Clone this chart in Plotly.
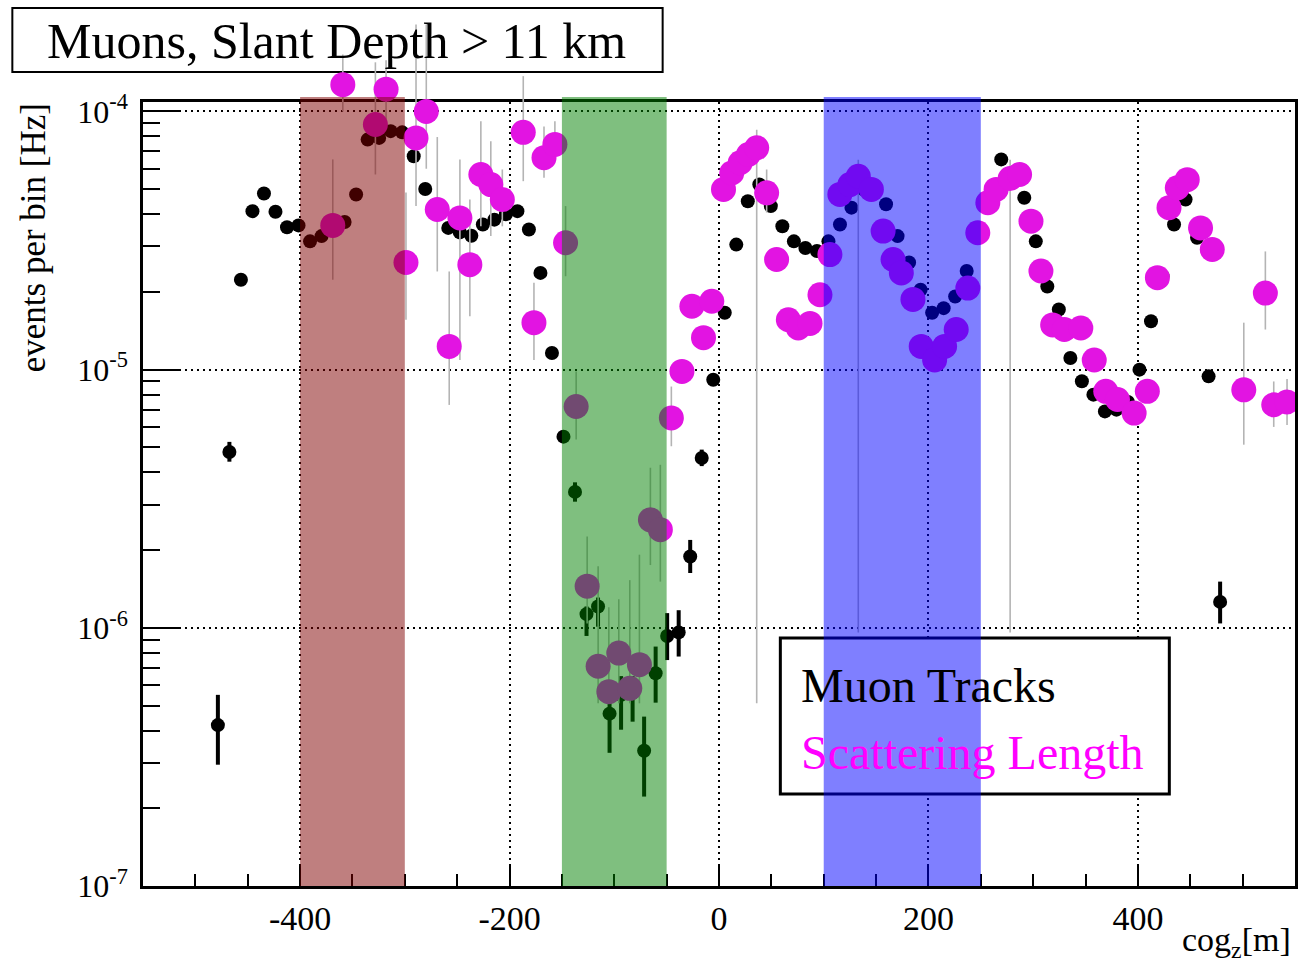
import plotly.graph_objects as go

# ---- Muon Tracks: rate per 11 m cog_z bin ----
muon_x = [-478.5, -467.5, -456.5, -445.5, -434.5, -423.5, -412.5, -401.5, -390.5, -379.5,
          -368.5, -357.5, -346.5, -335.5, -324.5, -313.5, -302.5, -291.5, -280.5, -269.5,
          -258.5, -247.5, -236.5, -225.5, -214.5, -203.5, -192.5, -181.5, -170.5, -159.5,
          -148.5, -137.5, -126.5, -115.5, -104.5, -93.5, -82.5, -71.5, -60.5, -49.5,
          -38.5, -27.5, -16.5, -5.5, 5.5, 16.5, 27.5, 38.5, 49.5, 60.5,
          71.5, 82.5, 93.5, 104.5, 115.5, 126.5, 137.5, 148.5, 159.5, 170.5,
          181.5, 192.5, 203.5, 214.5, 225.5, 236.5, 247.5, 258.5, 269.5, 280.5,
          291.5, 302.5, 313.5, 324.5, 335.5, 346.5, 357.5, 368.5, 379.5, 390.5,
          401.5, 412.5, 423.5, 434.5, 445.5, 456.5, 467.5, 478.5]
muon_rate = [4.2e-7, 4.8e-6, 2.23e-5, 4.11e-5, 4.81e-5, 4.09e-5, 3.56e-5, 3.62e-5, 3.14e-5, 3.29e-5,
             3.6e-5, 3.73e-5, 4.77e-5, 7.78e-5, 7.9e-5, 8.39e-5, 8.3e-5, 6.71e-5, 5.01e-5, 4.0e-5,
             3.54e-5, 3.4e-5, 3.3e-5, 3.65e-5, 3.81e-5, 4.0e-5, 4.11e-5, 3.49e-5, 2.37e-5, 1.16e-5,
             5.5e-6, 3.36e-6, 1.13e-6, 1.21e-6, 4.65e-7, 5.5e-7, 5.6e-7, 3.34e-7, 6.67e-7, 9.3e-7,
             9.6e-7, 1.89e-6, 4.55e-6, 9.14e-6, 1.66e-5, 3.05e-5, 4.49e-5, 5.21e-5, 4.3e-5, 3.59e-5,
             3.14e-5, 2.96e-5, 2.88e-5, 3.14e-5, 3.65e-5, 4.24e-5, 5.0e-5, 5.0e-5, 4.37e-5, 3.29e-5,
             2.6e-5, 2.04e-5, 1.66e-5, 1.73e-5, 1.92e-5, 2.41e-5, 3.3e-5, 4.5e-5, 6.52e-5, 5.8e-5,
             4.63e-5, 3.14e-5, 2.1e-5, 1.71e-5, 1.11e-5, 9.02e-6, 8.0e-6, 6.89e-6, 7.0e-6, 7.5e-6,
             1.0e-5, 1.54e-5, 2.3e-5, 3.65e-5, 4.56e-5, 3.24e-5, 9.42e-6, 1.26e-6]
muon_err_up = ([1.3e-7, 4.5e-7] + [0.0] * 29 +
               [3.0e-7, 8e-8, 1.0e-7, 6e-8, 1.0e-7, 9e-8, 1.19e-7, 1.79e-7, 2.1e-7, 2.1e-7, 3.0e-7, 3.5e-7] +
               [0.0] * 44 + [2.5e-7])
muon_err_dn = ([1.25e-7, 4.0e-7] + [0.0] * 29 +
               [2.8e-7, 2.0e-7, 2.0e-7, 1.37e-7, 1.47e-7, 1.27e-7, 1.12e-7, 1.54e-7, 1.8e-7, 1.86e-7, 2.6e-7, 3.2e-7] +
               [0.0] * 44 + [2.2e-7])

# ---- Scattering Length: rate, with upper / lower error bounds (None = no visible bar) ----
scat_x = [-368.8, -359.2, -328.1, -317.9, -298.9, -289.3, -279.5, -269.0, -257.6, -247.4,
          -237.9, -227.4, -217.9, -206.9, -186.9, -176.7, -167.1, -156.7, -146.5, -136.4,
          -125.9, -115.4, -105.2, -95.7, -85.2, -76.0, -65.5, -56.0, -45.5, -35.4,
          -25.9, -14.8, -6.9, 4.3, 12.2, 20.2, 28.1, 36.0, 45.5, 55.0,
          66.2, 75.7, 86.9, 96.4, 105.9, 115.4, 125.0, 133.0, 145.5, 156.7,
          166.2, 174.1, 185.2, 193.1, 205.9, 215.4, 226.5, 237.6, 247.1, 256.7,
          264.6, 278.0, 287.0, 297.9, 307.4, 318.6, 329.7, 345.5, 358.3, 369.3,
          380.5, 396.4, 409.0, 418.6, 429.7, 437.6, 447.1, 459.8, 471.0, 501.1,
          521.7, 529.7, 542.4]
scat_rate = [3.62e-5, 1.27e-4, 8.9e-5, 1.22e-4, 2.6e-5, 7.9e-5, 1.0e-4, 4.17e-5, 1.23e-5, 3.87e-5,
             2.55e-5, 5.7e-5, 5.21e-5, 4.56e-5, 8.3e-5, 1.52e-5, 6.62e-5, 7.45e-5, 3.1e-5, 7.2e-6,
             1.45e-6, 7.1e-7, 5.66e-7, 7.98e-7, 5.83e-7, 7.2e-7, 2.62e-6, 2.4e-6, 6.5e-6, 9.84e-6,
             1.76e-5, 1.33e-5, 1.84e-5, 4.99e-5, 5.78e-5, 6.33e-5, 6.81e-5, 7.23e-5, 4.84e-5, 2.67e-5,
             1.56e-5, 1.45e-5, 1.51e-5, 1.95e-5, 2.79e-5, 4.77e-5, 5.21e-5, 5.61e-5, 4.99e-5, 3.44e-5,
             2.67e-5, 2.37e-5, 1.87e-5, 1.23e-5, 1.09e-5, 1.23e-5, 1.43e-5, 2.07e-5, 3.39e-5, 4.43e-5,
             4.99e-5, 5.5e-5, 5.7e-5, 3.76e-5, 2.41e-5, 1.49e-5, 1.43e-5, 1.45e-5, 1.09e-5, 8.24e-6,
             7.66e-6, 6.79e-6, 8.24e-6, 2.27e-5, 4.24e-5, 5.06e-5, 5.44e-5, 3.54e-5, 2.92e-5, 8.35e-6,
             1.98e-5, 7.31e-6, 7.5e-6]
scat_hi = [6.52e-5, 1.66e-4, 1.55e-4, 1.58e-4, 4.85e-5, 2.17e-4, 2.17e-4, 7.96e-5, 2.4e-5, 6.52e-5,
           4.56e-5, 9.16e-5, 7.67e-5, 5.96e-5, 1.37e-4, 2.17e-5, 8.75e-5, 9.16e-5, 4.3e-5, 9.84e-6,
           2.26e-6, 1.73e-6, 1.2e-6, 1.29e-6, 1.53e-6, 1.92e-6, 4.17e-6, 4.28e-6, 8.6e-6, None,
           None, None, None, None, None, None, None, 8.5e-5, 5.96e-5, None,
           None, None, None, None, None, None, None, 6.5e-5, None, None,
           None, None, None, None, None, None, None, None, None, None,
           None, 6.5e-5, None, None, None, None, None, None, None, None,
           None, None, None, None, None, None, None, None, None, 1.52e-5,
           2.87e-5, 9.0e-6, 9.2e-6]
scat_lo = [2.23e-5, 1.0e-4, 5.7e-5, 9.3e-5, 1.56e-5, 4.3e-5, 6.0e-5, 2.4e-5, 7.3e-6, 1.09e-5,
           1.61e-5, 3.59e-5, 3.29e-5, 3.59e-5, 5.37e-5, 1.09e-5, 5.53e-5, 6.7e-5, 2.3e-5, 5.36e-6,
           1.04e-6, 5.1e-7, 5.1e-7, 5.1e-7, 5.1e-7, 5.1e-7, 1.75e-6, 1.51e-6, 5.05e-6, None,
           None, None, None, None, None, None, None, 5.1e-7, 4.06e-5, None,
           None, None, None, None, None, None, None, 9.6e-7, None, None,
           None, None, None, None, None, None, None, None, None, None,
           None, 9.6e-7, None, None, None, None, None, None, None, None,
           None, None, None, None, None, None, None, None, None, 5.12e-6,
           1.43e-5, 6.0e-6, 6.1e-6]

# ---- axis ticks ----
x_tickvals = [-400, -200, 0, 200, 400]
x_ticktext = ["-400", "-200", "0", "200", "400"]
y_tickvals = [1e-7, 1e-6, 1e-5, 1e-4]
y_ticktext = ["10<sup>-7</sup>", "10<sup>-6</sup>", "10<sup>-5</sup>", "10<sup>-4</sup>"]

# ---- highlighted cog_z regions ----
band_lo = [-400, -150, 100]
band_hi = [-300, -50, 250]
band_col = ["rgba(128,0,0,0.5)", "rgba(0,128,0,0.5)", "rgba(0,0,255,0.5)"]

scat_up = [(h - v) if h is not None else 0.0 for h, v in zip(scat_hi, scat_rate)]
scat_dn = [(v - l) if l is not None else 0.0 for l, v in zip(scat_lo, scat_rate)]

# ---- geometry (pixels) ----
W, H = 1302, 970
ML, MR, MT, MB = 143, 4, 20, 84
PW = W - ML - MR
frame_h = H - MB - 102           # visible frame height
full_h = H - MB - MT             # overlay area height (lets points spill above the frame)
frame_frac = frame_h / full_h
y_lo, y_hi = -7.0, -3.9634
y2_hi = y_lo + (y_hi - y_lo) / frame_frac
x_rng = [-550, 550]


def px_x(px):
    return (px - ML) / PW


def px_y(py):
    return (H - MB - py) / full_h


SERIF = "Liberation Serif"

fig = go.Figure()

fig.add_trace(go.Scatter(
    x=muon_x, y=muon_rate, mode="markers", name="Muon Tracks",
    marker=dict(color="black", size=14),
    error_y=dict(type="data", symmetric=False, array=muon_err_up, arrayminus=muon_err_dn,
                 color="black", thickness=4, width=0),
    xaxis="x", yaxis="y", showlegend=False,
))

fig.add_trace(go.Scatter(
    x=scat_x, y=scat_rate, mode="markers", name="Scattering Length",
    marker=dict(color="#e214e2", size=25),
    error_y=dict(type="data", symmetric=False, array=scat_up, arrayminus=scat_dn,
                 color="#b4b4b4", thickness=1.6, width=0),
    xaxis="x2", yaxis="y2", showlegend=False,
))

shapes = []
# title box (under the data)
shapes.append(dict(type="rect", xref="paper", yref="paper", layer="below",
                   x0=px_x(12), x1=px_x(664), y0=px_y(72), y1=px_y(8),
                   line=dict(color="black", width=2), fillcolor="white"))
# legend box
shapes.append(dict(type="rect", xref="paper", yref="paper", layer="above",
                   x0=px_x(782), x1=px_x(1172), y0=px_y(794), y1=px_y(638),
                   line=dict(color="black", width=3), fillcolor="white"))
# translucent cog_z bands on top of everything
for lo, hi, col in zip(band_lo, band_hi, band_col):
    shapes.append(dict(type="rect", xref="x", yref="paper", layer="above",
                       x0=lo, x1=hi, y0=0, y1=px_y(97),
                       line=dict(width=0), fillcolor=col))

annotations = [
    dict(text="Muons, Slant Depth > 11 km", xref="paper", yref="paper",
         x=px_x(337), y=px_y(41), showarrow=False,
         xanchor="center", yanchor="middle", font=dict(family=SERIF, size=50, color="black")),
    dict(text="Muon Tracks", xref="paper", yref="paper",
         x=px_x(801), y=px_y(685), showarrow=False,
         xanchor="left", yanchor="middle", font=dict(family=SERIF, size=48, color="black")),
    dict(text="Scattering Length", xref="paper", yref="paper",
         x=px_x(801), y=px_y(752), showarrow=False,
         xanchor="left", yanchor="middle", font=dict(family=SERIF, size=48, color="#ff00ff")),
    dict(text="events per bin [Hz]", xref="paper", yref="paper",
         x=px_x(33), y=px_y(238), showarrow=False, textangle=-90,
         xanchor="center", yanchor="middle", font=dict(family=SERIF, size=35, color="black")),
    dict(text="cog<sub>z</sub>[m]", xref="paper", yref="paper",
         x=px_x(1296), y=px_y(942), showarrow=False,
         xanchor="right", yanchor="middle", font=dict(family=SERIF, size=34, color="black")),
]

grid_dash = "2px,4px"

fig.update_layout(
    width=W, height=H,
    margin=dict(l=ML, r=MR, t=MT, b=MB, pad=0),
    paper_bgcolor="white", plot_bgcolor="rgba(0,0,0,0)",
    shapes=shapes, annotations=annotations,
    xaxis=dict(
        range=x_rng, domain=[0, 1], anchor="y",
        tickmode="array", tickvals=x_tickvals, ticktext=x_ticktext,
        ticks="inside", ticklen=22, tickwidth=2, tickcolor="black",
        minor=dict(ticks="inside", ticklen=12, tickwidth=2, tickcolor="black",
                   tickmode="linear", tick0=0, dtick=50, showgrid=False),
        showgrid=True, gridcolor="black", gridwidth=1.5, griddash=grid_dash,
        zeroline=False, showline=True, linecolor="black", linewidth=2.5, mirror=True,
        tickfont=dict(family=SERIF, size=34, color="black"), ticklabelstandoff=0,
    ),
    yaxis=dict(
        type="log", range=[y_lo, y_hi], domain=[0, frame_frac], anchor="x",
        tickmode="array", tickvals=y_tickvals, ticktext=y_ticktext,
        ticks="inside", ticklen=36, tickwidth=2, tickcolor="black",
        minor=dict(ticks="inside", ticklen=17, tickwidth=2, tickcolor="black", dtick="D1", showgrid=False),
        showgrid=True, gridcolor="black", gridwidth=1.5, griddash=grid_dash,
        zeroline=False, showline=True, linecolor="black", linewidth=2.5, mirror=True,
        tickfont=dict(family=SERIF, size=32, color="black"), ticklabelstandoff=6,
    ),
    xaxis2=dict(range=x_rng, domain=[0, 1], anchor="y2", visible=False),
    yaxis2=dict(type="log", range=[y_lo, y2_hi], domain=[0, 1], anchor="x2", visible=False),
)

fig.write_html("out.html")
